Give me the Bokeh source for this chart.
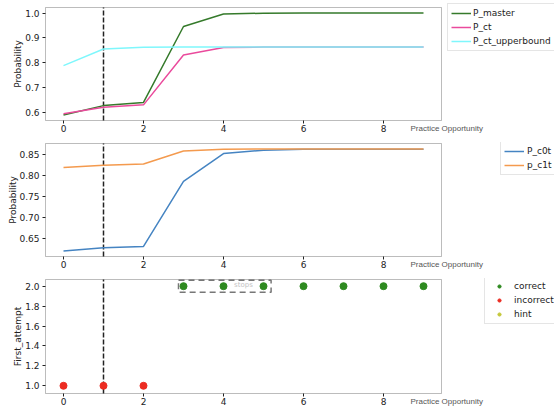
import math
from bokeh.plotting import figure
from bokeh.layouts import column
from bokeh.models import (Legend, LegendItem, Label, FixedTicker, BoxAnnotation,
                          PrintfTickFormatter, Range1d)
from bokeh.embed import file_html
from bokeh.resources import INLINE

# ---------------- data ----------------
opportunity = [0, 1, 2, 3, 4, 5, 6, 7, 8, 9]
p_master = [0.589, 0.627, 0.640, 0.946, 0.996, 0.9995, 1.0, 1.0, 1.0, 1.0]
p_ct = [0.594, 0.620, 0.630, 0.831, 0.861, 0.863, 0.863, 0.863, 0.863, 0.863]
p_ct_upperbound = [0.788, 0.855, 0.862, 0.863, 0.863, 0.863, 0.863, 0.863, 0.863, 0.863]
p_c0t = [0.621, 0.629, 0.632, 0.787, 0.853, 0.861, 0.863, 0.863, 0.863, 0.863]
p_c1t = [0.820, 0.825, 0.828, 0.859, 0.863, 0.864, 0.864, 0.864, 0.864, 0.864]
correct_x = [3, 4, 5, 6, 7, 8, 9]
correct_y = [2.0, 2.0, 2.0, 2.0, 2.0, 2.0, 2.0]
incorrect_x = [0, 1, 2]
incorrect_y = [1.0, 1.0, 1.0]
hint_x = [float("nan")]   # no hint attempts
hint_y = [float("nan")]
split_at = 1
stops_box_x = [2.875, 5.19]
stops_box_y = [1.94, 2.06]
x_ticks = [0, 2, 4, 6, 8]
x_limits = (-0.45, 9.45)
y_limits_1 = (0.567, 1.0225)
y_limits_2 = (0.6081, 0.8769)
y_limits_3 = (0.9226, 2.067)
y_ticks_1 = [0.6, 0.7, 0.8, 0.9, 1.0]
y_ticks_2 = [0.65, 0.70, 0.75, 0.80, 0.85]
y_ticks_3 = [1.0, 1.2, 1.4, 1.6, 1.8, 2.0]

# ---------------- layout (page pixels) ----------------
FONT = "DejaVu Sans"
W = 554
PAGE_X0 = 0
BOX_L, BOX_R = 45, 441   # page x of the axes box


def make_fig(c0, h, box_t, box_b, ylim, yticks, yfmt, ylabel, ylabel_x):
    ppx = (BOX_R - BOX_L) / (x_limits[1] - x_limits[0])
    xs = x_limits[0] - (BOX_L - PAGE_X0) / ppx
    xe = x_limits[1] + (PAGE_X0 + W - BOX_R) / ppx
    ppy = (box_b - box_t) / (ylim[1] - ylim[0])
    ys = ylim[0] - (c0 + h - box_b) / ppy
    ye = ylim[1] + (box_t - c0) / ppy
    p = figure(width=W, height=h, min_border=0,
               output_backend="svg", toolbar_location=None,
               x_range=Range1d(xs, xe), y_range=Range1d(ys, ye))
    p.grid.visible = False
    p.outline_line_color = None
    p.background_fill_color = "white"
    p.border_fill_color = "white"
    for ax in (p.xaxis[0], p.yaxis[0]):
        ax.axis_line_color = None
        ax.major_tick_out = 3
        ax.major_tick_in = 0
        ax.minor_tick_out = 0
        ax.minor_tick_in = 0
        ax.major_tick_line_color = "#222222"
        ax.major_label_text_font = FONT
        ax.major_label_text_font_size = "9px"
        ax.major_label_text_color = "#222222"
    p.xaxis.fixed_location = ylim[0]
    p.yaxis.fixed_location = x_limits[0]
    p.xaxis.major_label_standoff = 1
    p.yaxis.major_label_standoff = 3
    p.xaxis.ticker = FixedTicker(ticks=x_ticks)
    p.yaxis.ticker = FixedTicker(ticks=yticks)
    p.yaxis.formatter = PrintfTickFormatter(format=yfmt)
    # axes box (spines)
    p.add_layout(BoxAnnotation(left=x_limits[0], right=x_limits[1],
                               bottom=ylim[0], top=ylim[1],
                               fill_alpha=0, fill_color=None,
                               line_color="#222222", line_width=1))
    # vertical dashed marker
    p.segment(x0=[split_at], y0=[ylim[0]], x1=[split_at], y1=[ylim[1]],
              line_color="#222222", line_dash="5 2", line_width=1.5)
    # y axis title
    p.add_layout(Label(x=ylabel_x - PAGE_X0, y=c0 + h - (box_t + box_b) / 2,
                       x_units="screen", y_units="screen", text=ylabel,
                       angle=math.pi / 2, text_font=FONT, text_font_size="9px",
                       text_color="#222222", text_align="center",
                       text_baseline="middle"))
    # x axis title
    p.add_layout(Label(x=410 - PAGE_X0, y=c0 + h - (box_b + 8),
                       x_units="screen", y_units="screen",
                       text="Practice Opportunity", text_font="Liberation Sans",
                       text_font_size="8px", text_color="#555555",
                       text_baseline="middle"))
    p._c0 = c0
    p._h = h
    return p


def make_legend(p, items, left, top, glyph_w, standoff, n):
    height = 6 + 12 * n + 2 * (n - 1)
    vx = left - PAGE_X0
    vy = p._c0 + p._h - (top + height)
    lg = Legend(items=items, location=(vx, vy), orientation="vertical",
                label_text_font=FONT, label_text_font_size="9px",
                label_text_color="#222222", label_height=12, glyph_height=12,
                glyph_width=glyph_w, label_standoff=standoff, spacing=2,
                padding=3, margin=0, border_line_color="#cccccc",
                border_line_width=1, background_fill_alpha=1.0)
    p.add_layout(lg, "center")
    return lg


# ---------------- panel 1 ----------------
p1 = make_fig(0, 142, 7, 120, y_limits_1, y_ticks_1, "%.1f", "Probability", 17)
r1 = p1.line(opportunity, p_master, line_color="#357a2b", line_width=1.5)
r2 = p1.line(opportunity, p_ct, line_color="#ea4a9c", line_width=1.5)
r3 = p1.line(opportunity, p_ct_upperbound, line_color="#7ff7fc", line_width=1.5)
make_legend(p1, [LegendItem(label="P_master", renderers=[r1]),
                 LegendItem(label="P_ct", renderers=[r2]),
                 LegendItem(label="P_ct_upperbound", renderers=[r3])],
            447, 5, 20, 2, 3)

# ---------------- panel 2 ----------------
p2 = make_fig(142, 136, 143, 256, y_limits_2, y_ticks_2, "%.2f", "Probability", 12)
r4 = p2.line(opportunity, p_c0t, line_color="#4584c2", line_width=1.5)
r5 = p2.line(opportunity, p_c1t, line_color="#f49a4e", line_width=1.5)
make_legend(p2, [LegendItem(label="P_c0t", renderers=[r4]),
                 LegendItem(label="p_c1t", renderers=[r5])],
            500, 143, 20, 3, 2)

# ---------------- panel 3 ----------------
p3 = make_fig(278, 130, 279, 393, y_limits_3, y_ticks_3, "%.1f", "First_attempt", 17)
p3.quad(left=[stops_box_x[0]], right=[stops_box_x[1]],
        bottom=[stops_box_y[0]], top=[stops_box_y[1]],
        fill_color=None, line_color="#777777", line_dash="6 4", line_width=1.5)
p3.add_layout(Label(x=4.5, y=y_limits_3[1], text="stops", text_font=FONT,
                    text_font_size="7px", text_color="#c4c4c4",
                    text_align="center", text_baseline="top", y_offset=-1))
rc = p3.scatter(correct_x, correct_y, size=7, fill_color="#2e8a20", line_color="#2e8a20")
ri = p3.scatter(incorrect_x, incorrect_y, size=7, fill_color="#ec2c22", line_color="#ec2c22")
rh = p3.scatter(hint_x, hint_y, size=7, fill_color="#c5c83a", line_color="#c5c83a")
lg3 = make_legend(p3, [LegendItem(label="correct", renderers=[rc]),
                       LegendItem(label="incorrect", renderers=[ri]),
                       LegendItem(label="hint", renderers=[rh])],
                  484, 278, 22, 4, 3)
lg3.glyph_height = 8

layout = column(p1, p2, p3, spacing=0)
open("out.html", "w").write(file_html(layout, INLINE))
